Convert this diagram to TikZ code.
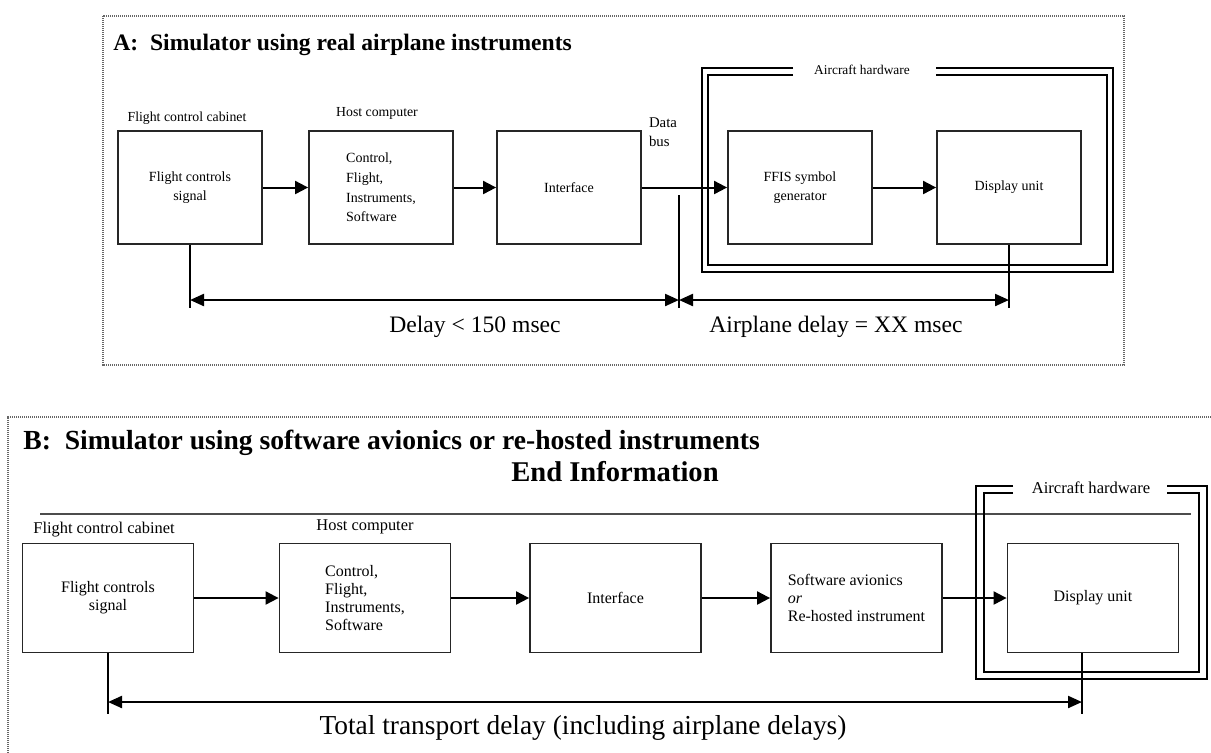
\documentclass[tikz,border=0pt]{standalone}
\usepackage{fontspec}
\setmainfont{Liberation Serif}
\usetikzlibrary{arrows.meta, positioning}
\tikzset{
  % blocco del simulatore
  blk/.style={draw=black!85, line width=0.9pt, inner sep=1pt, align=center},
  blk a/.style={blk, minimum width=72pt, minimum height=56.5pt, font=\fontsize{7}{9.8}\selectfont},
  blk b/.style={blk, minimum width=85.5pt, minimum height=54.5pt, font=\fontsize{8}{9}\selectfont},
  % didascalie sopra i blocchi
  lbl a/.style={font=\fontsize{6.9}{8}\selectfont, inner sep=0pt},
  lbl b/.style={font=\fontsize{8.2}{9}\selectfont, inner sep=0pt},
  % titoli dei riquadri
  ttl/.style={anchor=west, inner sep=0pt},
  % riquadro punteggiato
  panel/.style={line width=0.9pt, black!60, dash pattern=on 0.6pt off 0.4pt},
  % cornice doppia dell'hardware
  hwframe/.style={line width=0.8pt},
  % frecce di segnale e quote
  sig/.style={-{Triangle[length=6.5pt, width=6.5pt]}, line width=1pt},
  dimline/.style={{Triangle[length=7pt, width=6pt]}-{Triangle[length=7pt, width=6pt]}, line width=1.1pt},
  vtick/.style={line width=0.8pt},
  dlbl/.style={inner sep=0pt},
}
\begin{document}
\begin{tikzpicture}[x=0.5pt, y=-0.5pt]
  \useasboundingbox (0,0) rectangle (1211,752);
  % ---- riquadro A
  \draw[panel] (103,16) rectangle (1124,365);
  \node[ttl, font=\fontsize{11.8}{14}\selectfont\bfseries] (ttlA) at (113,45) {A:\ \ Simulator using real airplane instruments};
  \node[blk a] (fc1) at (190,187.5) {Flight controls\\signal};
  \node[blk a, align=left] (hc1) at (381,187.5) {Control,\\Flight,\\Instruments,\\Software};
  \node[blk a] (if1) at (569,187.5) {Interface};
  \node[blk a] (fg1) at (800,187.5) {FFIS symbol\\generator};
  \node[blk a] (du1) at (1009,187.5) {Display unit};
  \node[lbl a] (fcc1) at (187,118) {Flight control cabinet};
  \node[lbl a] (hcl1) at (377,113) {Host computer};
  \node[lbl a, align=left, font=\fontsize{7.4}{9.5}\selectfont] (db1) at (663,132) {Data\\bus};
  \node[lbl a, font=\fontsize{6.7}{8}\selectfont] (hw1) at (862,70) {Aircraft hardware};
  \draw[hwframe] (793,68) -| (702,272) -| (1113,68) -- (936,68);
  \draw[hwframe] (793,75) -| (708,265) -| (1107,75) -- (936,75);
  \foreach \a/\b in {fc1/hc1, hc1/if1, if1/fg1, fg1/du1} \draw[sig] (\a) -- (\b);
  \coordinate (a0) at (190,308);
  \coordinate (bus0) at (679,195);
  \coordinate (bus1) at (679,308);
  \coordinate (a2) at (1009,308);
  \draw[vtick] (fc1.south) -- (a0);
  \draw[vtick] (bus0) -- (bus1);
  \draw[vtick] (du1.south) -- (a2);
  \coordinate (m0) at (190,300);
  \coordinate (m1) at (679,300);
  \coordinate (m2) at (1009,300);
  \draw[dimline] (m0) -- (m1);
  \draw[dimline] (m1) -- (m2);
  \node[dlbl, font=\fontsize{11.8}{14}\selectfont] (dl1) at (475,327) {Delay < 150 msec};
  \node[dlbl, font=\fontsize{11.8}{14}\selectfont] (dl2) at (836,327) {Airplane delay = XX msec};
  % ---- riquadro B
  \draw[panel] (1211,417) -- (8,417) -- (8,752);
  \node[ttl, font=\fontsize{13.8}{16}\selectfont\bfseries] (ttlB) at (23,443) {B:\ \ Simulator using software avionics or re-hosted instruments};
  \node[font=\fontsize{14.3}{16}\selectfont\bfseries, inner sep=0pt] (endi) at (615,472) {End Information};
  \draw[line width=0.6pt, black!70] (40,514) -- (1191,514);
  \node[blk b] (fc2) at (108,598) {Flight controls\\signal};
  \node[blk b, align=left] (hc2) at (365,598) {Control,\\Flight,\\Instruments,\\Software};
  \node[blk b] (if2) at (615.5,598) {Interface};
  \node[blk b, align=left] (sa2) at (856.5,598) {Software avionics\\\textit{or}\\Re-hosted instrument};
  \node[blk b] (du2) at (1093,598) {Display unit};
  \node[lbl b] (fcc2) at (104,530) {Flight control cabinet};
  \node[lbl b] (hcl2) at (365,527) {Host computer};
  \node[lbl b, font=\fontsize{8.3}{9}\selectfont] (hw2) at (1091,488) {Aircraft hardware};
  \draw[hwframe] (1013,486) -| (976,679) -| (1207,486) -- (1167,486);
  \draw[hwframe] (1013,493) -| (984,672) -| (1199,493) -- (1167,493);
  \foreach \a/\b in {fc2/hc2, hc2/if2, if2/sa2, sa2/du2} \draw[sig] (\a) -- (\b);
  \coordinate (du2t) at ([xshift=-5.5pt]du2.south);
  \coordinate (b0) at (108,714);
  \coordinate (b1) at (1082,714);
  \draw[vtick] (fc2.south) -- (b0);
  \draw[vtick] (du2t) -- (b1);
  \coordinate (n0) at (108,702);
  \coordinate (n1) at (1082,702);
  \draw[dimline] (n0) -- (n1);
  \node[dlbl, font=\fontsize{13.7}{16}\selectfont] (tot) at (583,728) {Total transport delay (including airplane delays)};
\end{tikzpicture}
\end{document}
